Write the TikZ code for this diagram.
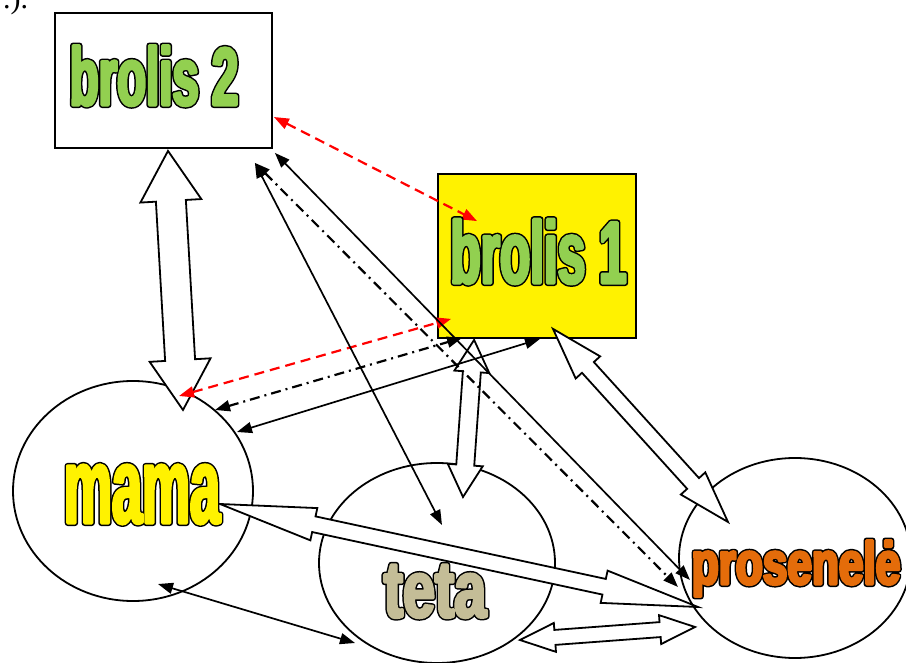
\documentclass[tikz,border=0pt]{standalone}
\usepackage{fontspec}
\usepackage{xcolor}
\usepackage{tikz}
\usetikzlibrary{calc}
\usetikzlibrary{positioning}
\usetikzlibrary{shapes,arrows.meta}

\setmainfont{Liberation Serif}

\definecolor{brolisgreen}{RGB}{146,208,80}
\definecolor{tetatan}{RGB}{196,189,151}
\definecolor{proseneleorange}{RGB}{228,108,10}

% outlined heavy label: colour, stretch, size, text
\newcommand{\outlined}[4]{{\fontspec{Liberation Sans Bold}[FakeStretch=#2]\fontsize{#3}{#3}\selectfont
  \special{pdf:literal direct 2 Tr 1 j 1 J}%
  \rlap{\color{black}\special{pdf:literal direct 6 w}#4}%
  {\color{#1}\special{pdf:literal direct 3 w}#4}%
  \special{pdf:literal direct 0 Tr 0 j 0 J}}}

% open double block arrow: from, to, head length, head width, shaft width
\newcommand{\fatarrow}[5]{\path [fat] let \p1 = (#1), \p2 = (#2), \n1 = {atan2(\y2-\y1,\x2-\x1)}, \n2 = {veclen(\x2-\x1,\y2-\y1)} in [shift={(\p1)}, rotate=\n1] (0pt,0pt) -- ({#3*1pt},{#4*0.5pt}) -- ({#3*1pt},{#5*0.5pt}) -- ({\n2*1pt-#3*1pt},{#5*0.5pt}) -- ({\n2*1pt-#3*1pt},{#4*0.5pt}) -- ({\n2*1pt},0pt) -- ({\n2*1pt-#3*1pt},{-#4*0.5pt}) -- ({\n2*1pt-#3*1pt},{-#5*0.5pt}) -- ({#3*1pt},{-#5*0.5pt}) -- ({#3*1pt},{-#4*0.5pt}) -- cycle;}

\begin{document}
\begin{tikzpicture}[x=1pt, y=-1pt,
    block/.style={draw, line width=1.8pt, inner sep=0pt},
    blob/.style={draw, ellipse, line width=1.8pt, inner sep=0pt},
    fat/.style={draw, line width=1.8pt, fill=white},
    link/.style={draw, line width=1.7pt, >={Triangle[length=15pt,width=11pt]}, <->},
    redlink/.style={link, red, line width=2.2pt, dash pattern=on 10pt off 6pt},
    dotlink/.style={link, line width=2.2pt, dash pattern=on 10pt off 5pt on 2pt off 5pt},
    lbl/.style={anchor=base, inner sep=0pt}]

\useasboundingbox (0,0) rectangle (906,663);

\node [anchor=base west, inner sep=0pt, font=\fontsize{30pt}{30pt}\selectfont] at (3, 9) (note) {.).};

% boxes
\node [block, minimum width=217pt, minimum height=135pt] at (163.5, 80.5) (brolis2) {};
\node [block, fill=yellow, minimum width=198pt, minimum height=164pt] at (537, 256) (brolis1) {};

% ovals
\node [blob, minimum width=240pt, minimum height=220pt] at (133, 491) (mama) {};
\node [blob, minimum width=236pt, minimum height=200pt] at (437, 563) (teta) {};
\node [blob, minimum width=232pt, minimum height=200pt] at (795, 558) (prosenele) {};

% wide arrows
\fatarrow{[shift={(4.5,2)}]brolis2.south}{[shift={(50,-81)}]mama.center}{50}{61}{30}
\fatarrow{[shift={(37,1)}]brolis1.south west}{[shift={(26,-66)}]teta.center}{32}{35}{18}
\fatarrow{[shift={(16,-10)}]brolis1.south}{[shift={(-67,-36)}]prosenele.center}{52}{33}{16}
\fatarrow{[shift={(87,13)}]mama.center}{[shift={(-97,49)}]prosenele.center}{96}{33}{16}
\fatarrow{[shift={(83,77)}]teta.center}{[shift={(-100,69)}]prosenele.center}{35}{29}{15}

% red dashed
\path [redlink] ([shift={(1,36.5)}]brolis2.east) to ([shift={(40,48)}]brolis1.north west);
\path [redlink] ([shift={(46,-95)}]mama.center) to ([shift={(14,-20)}]brolis1.south west);

% dash dot
\path [dotlink] ([shift={(82,-81)}]mama.center) to ([shift={(25,-1)}]brolis1.south west);
\path [dotlink] ([shift={(-18,14)}]brolis2.south east) to ([shift={(-117,29)}]prosenele.center);

% solid
\path [link] ([shift={(104,-59)}]mama.center) to ([shift={(3,0)}]brolis1.south);
\path [link] ([shift={(2,4)}]brolis2.south east) to ([shift={(-105,22)}]prosenele.center);
\path [link] ([shift={(-18,14)}]brolis2.south east) to ([shift={(5,-38)}]teta.center);
\path [link] ([shift={(25,93)}]mama.center) to ([shift={(-82,80)}]teta.center);

% labels
\node [lbl] at (154, 105) (brolis2text) {\outlined{brolisgreen}{0.578}{82pt}{brolis 2}};
\node [lbl] at (538.5, 283) (brolis1text) {\outlined{brolisgreen}{0.563}{88pt}{brolis 1}};
\node [lbl] at (142, 523) (mamatext) {\outlined{yellow}{0.5}{108pt}{mama}};
\node [lbl] at (435, 617) (tetatext) {\outlined{tetatan}{0.72}{80pt}{teta}};
\node [lbl] at (796, 584) (proseneletext) {\outlined{proseneleorange}{0.736}{60pt}{prosenelė}};

\end{tikzpicture}
\end{document}
